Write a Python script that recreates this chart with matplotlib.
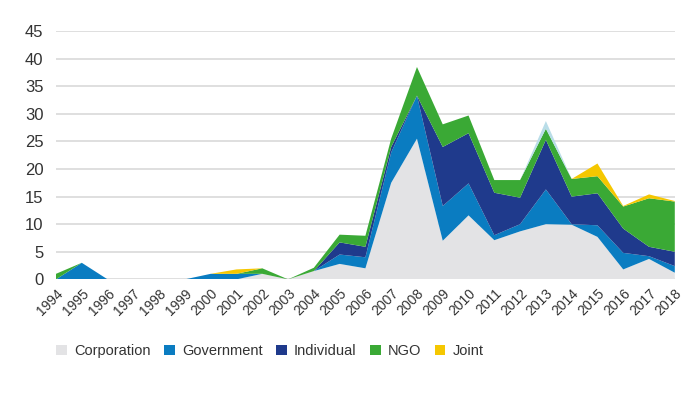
import matplotlib.pyplot as plt

plt.rcParams['font.family'] = ['Liberation Sans', 'DejaVu Sans']

# cases per year by type of plaintiff
years = list(range(1994, 2019))
corporation = [0, 0, 0, 0, 0, 0, 0, 0, 1, 0, 1.5, 2.8, 2.0, 17.5, 25.5, 7.0, 11.6,
               7.1, 8.7, 10.0, 9.9, 7.7, 1.8, 3.7, 1.2]
government = [0, 3, 0, 0, 0, 0, 1, 1, 0, 0, 0, 1.7, 2.0, 5.5, 7.8, 6.3, 5.8,
              0.9, 1.3, 6.3, 0.1, 2.1, 3.0, 0.5, 1.2]
individual = [0, 0, 0, 0, 0, 0, 0, 0, 0, 0, 0, 2.2, 1.9, 1.0, 0, 10.7, 9.1,
              7.7, 4.8, 9.0, 5.0, 5.8, 4.4, 1.7, 2.6]
ngo = [1, 0, 0, 0, 0, 0, 0, 0, 1, 0, 0.6, 1.4, 2.0, 1.5, 5.2, 4.1, 3.2,
       2.3, 3.2, 2.0, 3.2, 3.1, 4.0, 8.8, 9.1]
joint = [0, 0, 0, 0, 0, 0, 0, 0.8, 0, 0, 0, 0, 0, 0, 0, 0, 0,
         0, 0, 0, 0, 2.3, 0.1, 0.7, 0.1]
other = [0, 0, 0, 0, 0, 0, 0, 0, 0, 0, 0, 0, 0, 0, 0, 0, 0,
         0, 0, 1.4, 0, 0, 0, 0, 0]

labels = ["Corporation", "Government", "Individual", "NGO", "Joint", "_other"]
colors = ["#e3e3e5", "#0a7cc1", "#1f3a8c", "#3aa935", "#f5c700", "#b9dde8"]

fig = plt.figure(figsize=(7, 3.94), dpi=100)
ax = fig.add_axes([0.080, 0.291, 0.884, 0.630])

polys = ax.stackplot(years, corporation, government, individual, ngo, joint, other,
                     labels=labels, colors=colors, linewidth=0, zorder=2)

ax.set_xlim(1994, 2018)
ax.set_ylim(0, 45)
ax.set_yticks(range(0, 50, 5))
ax.set_xticks(years)
ax.set_xticklabels([str(y) for y in years], rotation=45, ha="right",
                   rotation_mode="anchor", fontsize=10, color="#333333")
ax.tick_params(axis="y", labelsize=12, labelcolor="#333333", length=0, pad=9)
ax.tick_params(axis="x", length=0, pad=5)
ax.grid(axis="y", color="#d9d9d9", linewidth=1.2, zorder=0)
ax.set_axisbelow(True)
for s in ax.spines.values():
    s.set_visible(False)

fig.legend(handles=polys[:5], labels=labels[:5], loc="center left",
           bbox_to_anchor=(56 / 700, 1 - 351 / 394), ncol=5, frameon=False,
           fontsize=10.5, handlelength=0.75, handleheight=0.75,
           handletextpad=0.5, columnspacing=0.9, borderpad=0, borderaxespad=0,
           labelcolor="#333333")

plt.savefig("out.png", dpi=100)
